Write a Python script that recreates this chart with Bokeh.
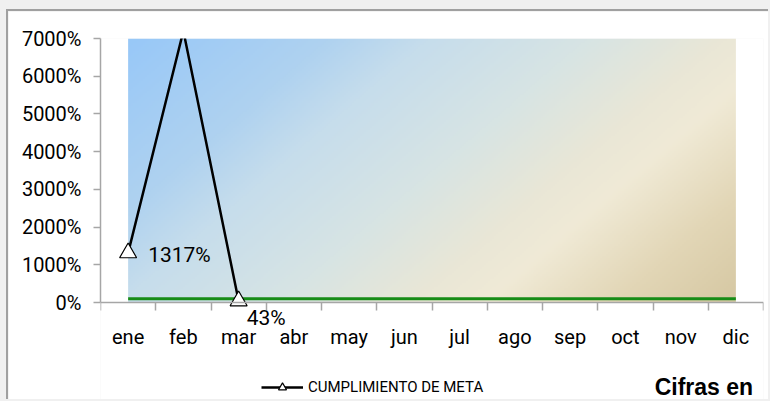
import numpy as np
from bokeh.plotting import figure
from bokeh.models import FixedTicker, Legend, LegendItem, Label, Range1d
from bokeh.embed import file_html
from bokeh.resources import INLINE

# ---- data ----
months = ["ene", "feb", "mar", "abr", "may", "jun", "jul", "ago", "sep", "oct", "nov", "dic"]
cumplimiento = [1317, 7200, 43]          # % (feb goes off the top of the chart)
meta = [100] * 12                        # %
fondo = [7000] * 12                      # background area series
y_ticks = [0, 1000, 2000, 3000, 4000, 5000, 6000, 7000]
label_idx = [0, 2]                       # points whose value is labelled

FONT = "Roboto"
Y_MAX = 7000
Y_MIN = -2625   # room below the axis for labels and legend (inside the frame)

xs = list(range(1, len(months) + 1))

p = figure(width=762, height=390,
           x_range=Range1d(0.5, len(months) + 0.5),
           y_range=Range1d(Y_MIN, Y_MAX),
           output_backend="svg", toolbar_location=None,
           min_border_left=92, min_border_right=7,
           min_border_top=27, min_border_bottom=0)
p.styles = {"border-top": "2px solid #a0a0a0", "border-left": "2px solid #a0a0a0",
            "margin-left": "6px", "margin-top": "9px"}
p.grid.visible = False
p.outline_line_color = None
p.background_fill_color = "white"
p.border_fill_color = "white"

# ---- gradient background (area series) ----
H, W = 131, 305
cols = np.linspace(0, 1, W)[None, :]
dy_from_top = 1 - np.linspace(0, 1, H)[:, None]   # row 0 is bottom in bokeh images
t = 0.61 * cols + 0.31 * dy_from_top
stops = [0.0, 0.2, 0.3, 0.46, 0.60, 0.67, 0.80, 0.92, 1.0]
R = [152, 175, 198, 215, 234, 240, 226, 214, 208]
G = [200, 210, 221, 228, 231, 234, 214, 200, 193]
B = [248, 240, 236, 228, 214, 214, 182, 163, 152]
img = np.empty((H, W), dtype=np.uint32)
view = img.view(dtype=np.uint8).reshape((H, W, 4))
view[:, :, 0] = np.interp(t, stops, R).astype(np.uint8)
view[:, :, 1] = np.interp(t, stops, G).astype(np.uint8)
view[:, :, 2] = np.interp(t, stops, B).astype(np.uint8)
view[:, :, 3] = 255
p.image_rgba(image=[img], x=xs[0], y=0, dw=xs[-1] - xs[0], dh=max(fondo))

# ---- meta line ----
p.line(x=xs, y=meta, line_color="#178c17", line_width=3)

# ---- cumplimiento ----
cx = xs[:len(cumplimiento)]
lr = p.line(x=cx, y=cumplimiento, line_color="black", line_width=2.5)
sr = p.scatter(x=cx, y=cumplimiento, marker="triangle", size=17,
               fill_color="white", line_color="black", line_width=1.2)

i0, i1 = label_idx
p.add_layout(Label(x=cx[i0], y=cumplimiento[i0], text=f"{cumplimiento[i0]}%",
                   x_offset=20, y_offset=-2, text_baseline="middle", text_align="left",
                   text_font=FONT, text_font_size="21px", text_color="black"))
p.add_layout(Label(x=cx[i1], y=cumplimiento[i1], text=f"{cumplimiento[i1]}%",
                   x_offset=8, y_offset=-17, text_baseline="middle", text_align="left",
                   text_font=FONT, text_font_size="21px", text_color="black"))

# ---- axes ----
AX = "#a6a6a6"
yax = p.yaxis[0]
yax.ticker = FixedTicker(ticks=y_ticks)
yax.bounds = (0, Y_MAX)
yax.major_label_overrides = {v: f"{v}%" for v in y_ticks}
yax.axis_line_color = AX
yax.axis_line_width = 1.5
yax.major_tick_line_color = AX
yax.major_tick_line_width = 1.5
yax.major_tick_out = 7
yax.major_tick_in = 0
yax.minor_tick_line_color = None
yax.major_label_standoff = 12
yax.major_label_text_font = FONT
yax.major_label_text_font_size = "20px"
yax.major_label_text_color = "black"

xax = p.xaxis[0]
xax.fixed_location = 0
xax.ticker = FixedTicker(ticks=xs, minor_ticks=[x - 0.5 for x in xs] + [xs[-1] + 0.5])
xax.major_label_overrides = {x: m for x, m in zip(xs, months)}
xax.axis_line_color = AX
xax.axis_line_width = 1.5
xax.major_tick_line_color = None
xax.major_tick_out = 8
xax.major_tick_in = 0
xax.minor_tick_line_color = AX
xax.minor_tick_line_width = 1.5
xax.minor_tick_out = 8
xax.minor_tick_in = 0
xax.major_label_standoff = 14
xax.major_label_text_font = FONT
xax.major_label_text_font_size = "20px"
xax.major_label_text_color = "black"

# ---- legend ----
legend = Legend(items=[LegendItem(label="CUMPLIMIENTO DE META", renderers=[lr, sr])],
                location=(161, 4), orientation="horizontal",
                glyph_width=42, glyph_height=20, label_standoff=5,
                label_text_font=FONT, label_text_font_size="15px",
                label_text_color="black",
                border_line_color=None, background_fill_alpha=0,
                padding=0, margin=0)
p.add_layout(legend)

p.add_layout(Label(x=10.53, y=-2240, text="Cifras en", text_font="Liberation Sans",
                   text_font_style="bold", text_font_size="23px",
                   text_baseline="middle", text_color="black"))

html = file_html(p, INLINE)
html = html.replace("</head>", "<style>html, body { background: #f0f0f0; }</style></head>", 1)
open("out.html", "w").write(html)
